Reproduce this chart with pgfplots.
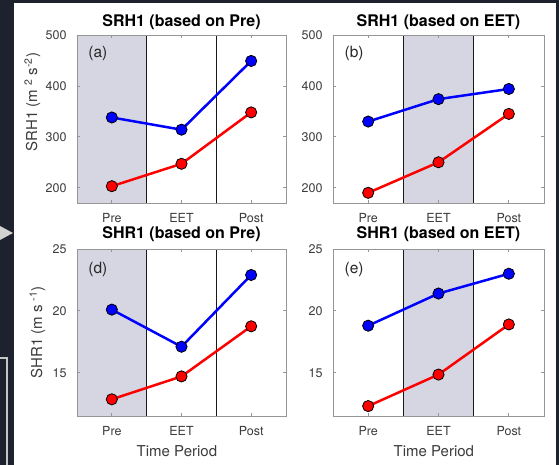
\documentclass[border=0pt]{standalone}
\usepackage{pgfplots}
\pgfplotsset{compat=1.18}
\usepackage{fontspec}
\setmainfont{TeX Gyre Heros}

\definecolor{bgdark}{RGB}{30,34,46}
\definecolor{shade}{RGB}{214,214,227}
\definecolor{axgray}{RGB}{150,150,150}
\definecolor{ticktext}{RGB}{60,60,60}
\definecolor{sepline}{RGB}{25,25,25}

\tikzset{plabel/.style={font=\fontsize{15.5}{18}\selectfont, text=black!85}}

\pgfplotsset{
  panel/.style={
    scale only axis, anchor=south west,
    xmin=0.5, xmax=3.5, xtick={1,2,3}, xticklabels={Pre,EET,Post},
    axis line style={axgray, line width=0.7pt},
    tick style={axgray, line width=0.7pt},
    major tick length=3pt,
    tick align=inside,
    ticklabel style={font=\fontsize{12.5}{14}\selectfont, text=ticktext},
    xticklabel style={anchor=base, inner sep=0pt, yshift=-20pt},
    yticklabel style={anchor=east, xshift=-7pt},
    /pgf/number format/assume math mode=true,
    title style={font=\bfseries\fontsize{16}{19}\selectfont, at={(axis description cs:0.5,1)}, anchor=base, inner sep=0pt},
    ylabel style={font=\fontsize{15}{18}\selectfont, text=ticktext, anchor=base},
    xlabel style={font=\fontsize{15}{18}\selectfont, text=ticktext, at={(axis description cs:0.478,0)}, anchor=base, yshift=-41pt},
    axis on top,
  },
  toprow/.style={title style={yshift=2.5pt}},
  botrow/.style={title style={yshift=4.5pt}},
  blueline/.style={blue, line width=2.5pt, mark=*, mark size=5.6pt, mark options={fill=blue, draw=black, line width=0.8pt}},
  redline/.style={red, line width=2.5pt, mark=*, mark size=5.6pt, mark options={fill=red, draw=black, line width=0.8pt}},
  shadefill/.style={fill=shade, draw=none},
  sep/.style={sepline, line width=1.3pt},
}

\begin{document}
\begin{tikzpicture}
\useasboundingbox (0pt,0pt) rectangle (559pt,465pt);
\fill[bgdark] (0pt,0pt) rectangle (559pt,465pt);
\fill[white] (14pt,0pt) rectangle (556pt,462pt);
\draw[gray!45, line width=1.4pt] (0pt,107pt) -- (7pt,107pt) -- (7pt,0pt);
\fill[gray!35] (0pt,239pt) -- (13pt,232pt) -- (0pt,225pt) -- cycle;

% (a)
\begin{axis}[panel, toprow, at={(77pt,262pt)}, width=209pt, height=168pt,
  ymin=170, ymax=500, ytick={200,300,400,500},
  title={SRH1 (based on Pre)},
  ylabel={SRH1 (m \textsuperscript{2} s\textsuperscript{-2})},
  ylabel style={at={(axis description cs:-0.191,0.6)}}]
\addplot[shadefill] coordinates {(0.5,170) (1.5,170) (1.5,500) (0.5,500)} -- cycle;
\addplot[sep] coordinates {(1.5,170) (1.5,500)};
\addplot[sep] coordinates {(2.5,170) (2.5,500)};
\addplot[redline] coordinates {(1,203) (2,247) (3,348)};
\addplot[blueline] coordinates {(1,338) (2,314) (3,449)};
\node[plabel] at (rel axis cs:0.10,0.887) {(a)};
\end{axis}

% (b)
\begin{axis}[panel, toprow, at={(333pt,262pt)}, width=211pt, height=168pt,
  ymin=170, ymax=500, ytick={200,300,400,500},
  title={SRH1 (based on EET)}]
\addplot[shadefill] coordinates {(1.5,170) (2.5,170) (2.5,500) (1.5,500)} -- cycle;
\addplot[sep] coordinates {(1.5,170) (1.5,500)};
\addplot[sep] coordinates {(2.5,170) (2.5,500)};
\addplot[redline] coordinates {(1,190) (2,250) (3,345)};
\addplot[blueline] coordinates {(1,330) (2,374) (3,394)};
\node[plabel] at (rel axis cs:0.10,0.887) {(b)};
\end{axis}

% (d)
\begin{axis}[panel, botrow, at={(77pt,49pt)}, width=209pt, height=167pt,
  ymin=11.5, ymax=25, ytick={15,20,25},
  title={SHR1 (based on Pre)},
  xlabel={Time Period},
  ylabel={SHR1 (m s \textsuperscript{-1})},
  ylabel style={at={(axis description cs:-0.167,0.5)}}]
\addplot[shadefill] coordinates {(0.5,11.5) (1.5,11.5) (1.5,25) (0.5,25)} -- cycle;
\addplot[sep] coordinates {(1.5,11.5) (1.5,25)};
\addplot[sep] coordinates {(2.5,11.5) (2.5,25)};
\addplot[redline] coordinates {(1,12.85) (2,14.7) (3,18.75)};
\addplot[blueline] coordinates {(1,20.1) (2,17.1) (3,22.9)};
\node[plabel] at (rel axis cs:0.10,0.877) {(d)};
\end{axis}

% (e)
\begin{axis}[panel, botrow, at={(333pt,49pt)}, width=211pt, height=167pt,
  ymin=11.5, ymax=25, ytick={15,20,25},
  title={SHR1 (based on EET)},
  xlabel={Time Period}]
\addplot[shadefill] coordinates {(1.5,11.5) (2.5,11.5) (2.5,25) (1.5,25)} -- cycle;
\addplot[sep] coordinates {(1.5,11.5) (1.5,25)};
\addplot[sep] coordinates {(2.5,11.5) (2.5,25)};
\addplot[redline] coordinates {(1,12.3) (2,14.85) (3,18.9)};
\addplot[blueline] coordinates {(1,18.8) (2,21.4) (3,23.0)};
\node[plabel] at (rel axis cs:0.10,0.877) {(e)};
\end{axis}
\end{tikzpicture}
\end{document}
